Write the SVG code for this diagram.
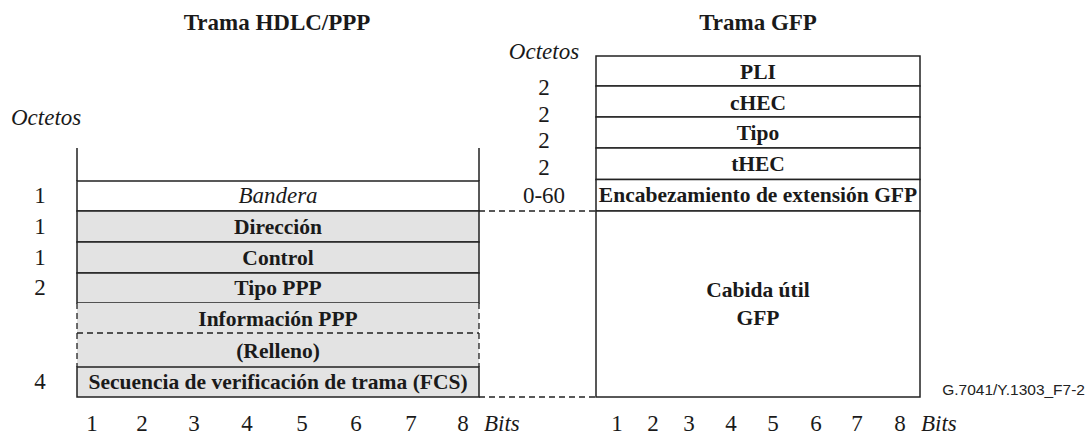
<svg xmlns="http://www.w3.org/2000/svg" width="1087" height="435" viewBox="0 0 1087 435">
<style>
.t{font-family:"Liberation Serif","Times New Roman",serif;fill:#1a1a1a}
.b{font-weight:bold;font-size:21.5px;text-anchor:middle}
.r{font-size:23px;text-anchor:middle}
.i{font-style:italic;font-size:23px}
.ttl{font-weight:bold;font-size:23px;text-anchor:middle}
.box{stroke:#222;stroke-width:1.5;fill:#fff}
.gr{stroke:#222;stroke-width:1.5;fill:#e3e3e3}
.ln{stroke:#222;stroke-width:1.5;fill:none}
.ds{stroke:#222;stroke-width:1.3;fill:none;stroke-dasharray:6 4}
.id{font-family:"Liberation Sans",Arial,sans-serif;font-size:15.5px;fill:#222;text-anchor:end}
</style>
<rect width="1087" height="435" fill="#fff"/>
<g id="titles">
<text class="t ttl" x="277" y="30">Trama HDLC/PPP</text>
<text class="t ttl" x="758" y="30">Trama GFP</text>
</g>
<g id="hdlc-frame">
<g id="hdlc-open"><path class="ln" d="M77,148 V181 M479,148 V181"/></g>
<g id="hdlc-bandera"><rect class="box" x="77" y="181" width="402" height="30"/><text class="t i" x="278" y="203" text-anchor="middle">Bandera</text></g>
<g id="hdlc-direccion"><rect class="gr" x="77" y="211" width="402" height="31"/><text class="t b" x="278" y="234">Dirección</text></g>
<g id="hdlc-control"><rect class="gr" x="77" y="242" width="402" height="31"/><text class="t b" x="278" y="265">Control</text></g>
<g id="hdlc-tipo"><rect class="gr" x="77" y="273" width="402" height="30"/><text class="t b" x="278" y="295">Tipo PPP</text></g>
<g id="hdlc-info"><rect x="77" y="303" width="402" height="64" fill="#e3e3e3"/><path class="ds" d="M77,303 V367 M479,303 V367 M77,333 H479"/><text class="t b" x="278" y="326">Información PPP</text></g>
<g id="hdlc-relleno"><text class="t b" x="278" y="358">(Relleno)</text></g>
<g id="hdlc-fcs"><rect class="gr" x="77" y="367" width="402" height="30"/><text class="t b" x="278" y="389">Secuencia de verificación de trama (FCS)</text></g>
</g>
<g id="gfp-frame">
<g id="gfp-pli"><rect class="box" x="596" y="56" width="324" height="30"/><text class="t b" x="758" y="79">PLI</text></g>
<g id="gfp-chec"><rect class="box" x="596" y="86" width="324" height="31"/><text class="t b" x="758" y="110">cHEC</text></g>
<g id="gfp-tipo"><rect class="box" x="596" y="117" width="324" height="31"/><text class="t b" x="758" y="140">Tipo</text></g>
<g id="gfp-thec"><rect class="box" x="596" y="148" width="324" height="31.5"/><text class="t b" x="758" y="171">tHEC</text></g>
<g id="gfp-ext"><rect class="box" x="596" y="179.5" width="324" height="31.5"/><text class="t b" x="758" y="202">Encabezamiento de extensión GFP</text></g>
<g id="gfp-payload"><rect class="box" x="596" y="211" width="324" height="186"/><text class="t b" x="758" y="297">Cabida útil</text><text class="t b" x="758" y="325">GFP</text></g>
</g>
<g id="connectors">
<path class="ds" d="M479,211 H596"/>
<path class="ds" d="M479,397 H596"/>
</g>
<g id="left-octets">
<text class="t i" x="11" y="125">Octetos</text>
<text class="t r" x="40" y="203">1</text>
<text class="t r" x="40" y="234">1</text>
<text class="t r" x="40" y="265">1</text>
<text class="t r" x="40" y="295">2</text>
<text class="t r" x="40" y="389">4</text>
</g>
<g id="mid-octets">
<text class="t i" x="544" y="59" text-anchor="middle">Octetos</text>
<text class="t r" x="544" y="95">2</text>
<text class="t r" x="544" y="122">2</text>
<text class="t r" x="544" y="148">2</text>
<text class="t r" x="544" y="175">2</text>
<text class="t r" x="544" y="203">0-60</text>
</g>
<g id="left-bits">
<text class="t r" x="92" y="431">1</text>
<text class="t r" x="142" y="431">2</text>
<text class="t r" x="194" y="431">3</text>
<text class="t r" x="247" y="431">4</text>
<text class="t r" x="302" y="431">5</text>
<text class="t r" x="356" y="431">6</text>
<text class="t r" x="411" y="431">7</text>
<text class="t r" x="463" y="431">8</text>
<text class="t i" x="484" y="431">Bits</text>
</g>
<g id="right-bits">
<text class="t r" x="617" y="431">1</text>
<text class="t r" x="653" y="431">2</text>
<text class="t r" x="689" y="431">3</text>
<text class="t r" x="731" y="431">4</text>
<text class="t r" x="773" y="431">5</text>
<text class="t r" x="816" y="431">6</text>
<text class="t r" x="857" y="431">7</text>
<text class="t r" x="900" y="431">8</text>
<text class="t i" x="921" y="431">Bits</text>
</g>
<text class="id" x="1085" y="395">G.7041/Y.1303_F7-2</text>
</svg>
